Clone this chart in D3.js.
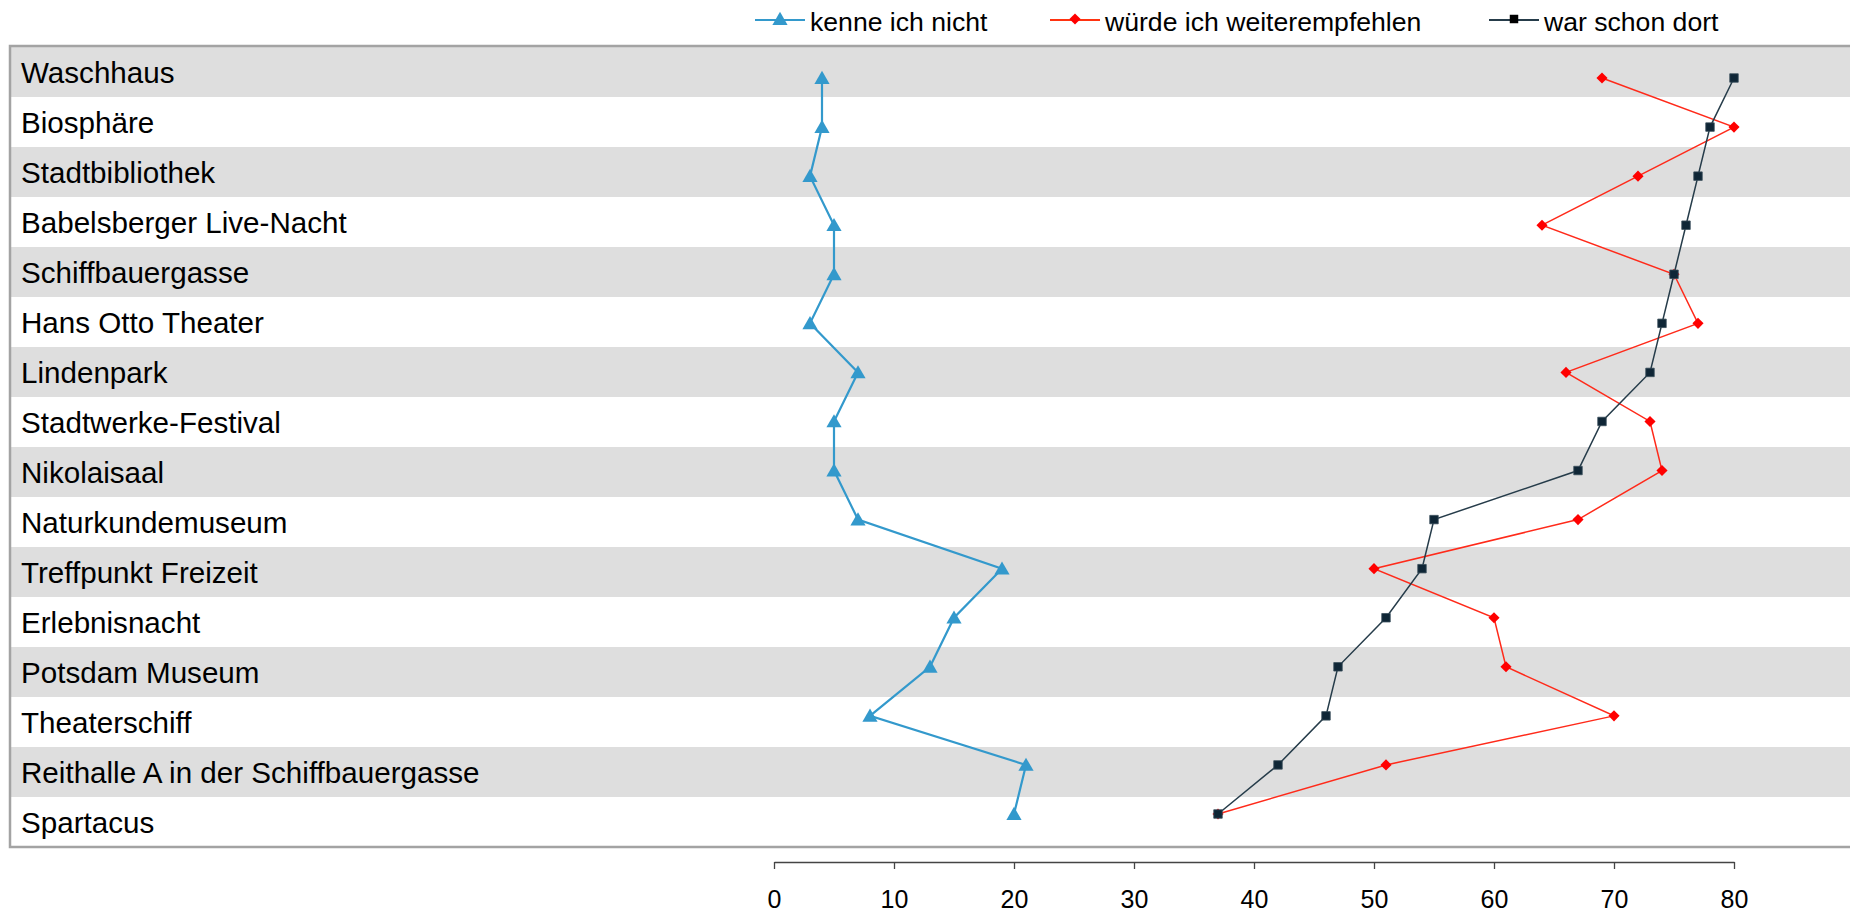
<!DOCTYPE html>
<html>
<head>
<meta charset="utf-8">
<script src="https://cdn.jsdelivr.net/npm/d3@7"></script>
<style>
  html, body { margin: 0; padding: 0; background: #fff; }
  svg { display: block; font-family: "Liberation Sans", Arial, sans-serif; }
</style>
</head>
<body>
<svg id="chart" width="1850" height="912"></svg>
<script>
const categories = [
  "Waschhaus", "Biosphäre", "Stadtbibliothek", "Babelsberger Live-Nacht",
  "Schiffbauergasse", "Hans Otto Theater", "Lindenpark", "Stadtwerke-Festival",
  "Nikolaisaal", "Naturkundemuseum", "Treffpunkt Freizeit", "Erlebnisnacht",
  "Potsdam Museum", "Theaterschiff", "Reithalle A in der Schiffbauergasse", "Spartacus"
];
const kenneIchNicht = [4, 4, 3, 5, 5, 3, 7, 5, 5, 7, 19, 15, 13, 8, 21, 20];
const wuerdeIchWeiterempfehlen = [69, 80, 72, 64, 75, 77, 66, 73, 74, 67, 50, 60, 61, 70, 51, 37];
const warSchonDort = [80, 78, 77, 76, 75, 74, 73, 69, 67, 55, 54, 51, 47, 46, 42, 37];
const xTickValues = [0, 10, 20, 30, 40, 50, 60, 70, 80];
const seriesNames = ["kenne ich nicht", "würde ich weiterempfehlen", "war schon dort"];

const svg = d3.select("#chart");

const x = d3.scaleLinear().domain([0, 80]).range([774, 1734]);
const rows = d3.scaleBand().domain(categories).range([47, 847]);
const y = d3.scalePoint().domain(categories).range([78, 814]);

// row stripes
svg.append("g").selectAll("rect").data(categories).join("rect")
  .attr("x", 10).attr("width", 1845)
  .attr("y", d => rows(d)).attr("height", rows.bandwidth())
  .attr("fill", (d, i) => i % 2 === 0 ? "#dedede" : "#ffffff");

// row labels
svg.append("g").selectAll("text").data(categories).join("text")
  .attr("x", 21).attr("y", d => rows(d) + rows.bandwidth() / 2)
  .attr("dy", "0.36em")
  .attr("font-size", 29.6).attr("fill", "#000")
  .text(d => d);

// plot border
svg.append("rect")
  .attr("x", 10).attr("y", 46).attr("width", 1850).attr("height", 801)
  .attr("fill", "none").attr("stroke", "#a3a3a3").attr("stroke-width", 2.5);

const series = [
  { name: seriesNames[0], values: kenneIchNicht, line: "#3399cc", fill: "#3399cc", width: 2.2, shape: "triangle" },
  { name: seriesNames[1], values: wuerdeIchWeiterempfehlen, line: "#ff2a1a", fill: "#ff0000", width: 1.5, shape: "diamond" },
  { name: seriesNames[2], values: warSchonDort, line: "#263c4a", fill: "#0f2636", width: 1.5, shape: "square" }
];

const triangleSym = d3.symbol(d3.symbolTriangle, 100);
const squareSym = d3.symbol(d3.symbolSquare, 72);
const diamondSym = d3.symbol(d3.symbolSquare, 62);

function markerPath(shape) {
  if (shape === "triangle") return triangleSym();
  if (shape === "diamond") return diamondSym();
  return squareSym();
}
function markerTransform(shape, px, py) {
  if (shape === "triangle") return `translate(${px},${py + 1.5})`;
  if (shape === "diamond") return `translate(${px},${py}) rotate(45)`;
  return `translate(${px},${py})`;
}

const line = d3.line().x(d => x(d.v)).y(d => y(d.c));

series.forEach(s => {
  const pts = categories.map((c, i) => ({ c, v: s.values[i] }));
  const g = svg.append("g");
  g.append("path").datum(pts)
    .attr("d", line).attr("fill", "none")
    .attr("stroke", s.line).attr("stroke-width", s.width);
  g.selectAll("path.m").data(pts).join("path").attr("class", "m")
    .attr("d", markerPath(s.shape))
    .attr("transform", d => markerTransform(s.shape, x(d.v), y(d.c)))
    .attr("fill", s.fill)
    .attr("stroke", s.shape === "square" ? "#3a4e5a" : "none")
    .attr("stroke-width", 0.8);
});

// x axis
const axis = d3.axisBottom(x).tickValues(xTickValues).tickSize(7).tickSizeOuter(0).tickPadding(21);
const ax = svg.append("g").attr("transform", "translate(0,862)").call(axis);
ax.select(".domain").attr("stroke", "#444").attr("stroke-width", 1.3);
ax.selectAll(".tick line").attr("stroke", "#444").attr("stroke-width", 1.3);
ax.selectAll(".tick text").attr("font-size", 25).attr("fill", "#000")
  .attr("font-family", "'Liberation Sans', Arial, sans-serif");

// legend
const legendX = [755, 1050, 1489];
const legend = svg.append("g");
series.forEach((s, i) => {
  const g = legend.append("g").attr("transform", `translate(${legendX[i]},20)`);
  g.append("line").attr("x1", 0).attr("x2", 50).attr("y1", 0).attr("y2", 0)
    .attr("stroke", s.shape === "diamond" ? "#ff3311" : s.line).attr("stroke-width", 2);
  g.append("path").attr("d", markerPath(s.shape))
    .attr("transform", markerTransform(s.shape, 25, -1))
    .attr("fill", s.shape === "square" ? "#000" : s.fill);
  g.append("text").attr("x", 55).attr("y", 1).attr("dy", "0.36em")
    .attr("font-size", 26.6).attr("fill", "#000").text(s.name);
});
</script>
</body>
</html>
